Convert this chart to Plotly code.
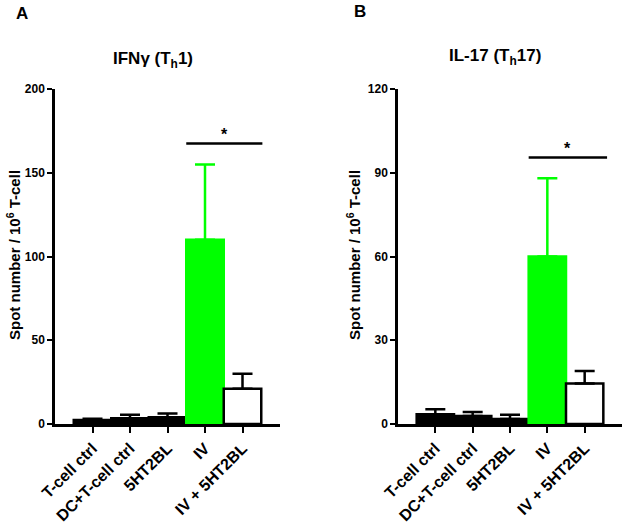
import plotly.graph_objects as go
from plotly.subplots import make_subplots

categories = ["T-cell ctrl", "DC+T-cell ctrl", "5HT2BL", "IV", "IV + 5HT2BL"]
ifng_values = [2.4, 3.5, 4.0, 110, 21]
ifng_errors = [0.8, 2.0, 2.2, 45, 9]
il17_values = [3.5, 2.9, 1.8, 60, 14.5]
il17_errors = [1.8, 1.4, 1.5, 28, 4.5]
ifng_ticks = [0, 50, 100, 150, 200]
il17_ticks = [0, 30, 60, 90, 120]
ifng_sig = (2.5, 4.53, 167.5)
il17_sig = (2.5, 4.6, 95.5)

fills = ["black", "black", "black", "#00FF00", "white"]
edges = ["black", "black", "black", "#00FF00", "black"]
errcol = ["black", "black", "black", "#00FF00", "black"]

# plot area in pixels: x 55..622, y 89..424
L, R, T, B, W, H = 55, 3, 89, 102, 625, 526
PW, PH = W - L - R, H - T - B


def px(x):
    return (x - L) / PW


def py(y):
    return (H - B - y) / PH


fig = make_subplots(rows=1, cols=2, horizontal_spacing=0.2)
fig.update_layout(xaxis=dict(domain=[0, px(280)]), xaxis2=dict(domain=[px(398), 1.0]))

FONT = "Liberation Sans, Arial, sans-serif"

for col, (vals, errs) in enumerate([(ifng_values, ifng_errors), (il17_values, il17_errors)], start=1):
    for i, c in enumerate(categories):
        fig.add_trace(go.Bar(
            x=[i], y=[vals[i]], width=[1.0],
            marker=dict(color=fills[i], line=dict(color=edges[i], width=2.5)),
            error_y=dict(type="data", array=[errs[i]], arrayminus=[0], symmetric=False,
                         color=errcol[i], thickness=2.5, width=10),
            showlegend=False, hoverinfo="skip",
        ), row=1, col=col)

for col, (ticks, sig) in enumerate([(ifng_ticks, ifng_sig), (il17_ticks, il17_sig)], start=1):
    fig.update_xaxes(row=1, col=col, range=[-1, 5], tickmode="array",
                     tickvals=list(range(len(categories))), ticktext=categories,
                     tickangle=-45, showline=True, linecolor="black", linewidth=2.5,
                     ticks="outside", ticklen=6, tickwidth=2, tickcolor="black",
                     showgrid=False, zeroline=False, automargin=False,
                     tickfont=dict(family=FONT, size=16, color="black", weight="bold"))
    fig.update_yaxes(row=1, col=col, range=[0, ticks[-1]], tickmode="array",
                     tickvals=ticks, showline=True, linecolor="black", linewidth=2.5,
                     ticks="outside", ticklen=5, tickwidth=2, tickcolor="black",
                     showgrid=False, zeroline=False, automargin=False,
                     tickfont=dict(family=FONT, size=12, color="black", weight="bold"))
    xr = "x" if col == 1 else "x2"
    yr = "y" if col == 1 else "y2"
    fig.add_shape(type="line", xref=xr, yref=yr, x0=sig[0], x1=sig[1], y0=sig[2], y1=sig[2],
                  line=dict(color="black", width=2.5))
    fig.add_annotation(xref=xr, yref=yr, x=(sig[0] + sig[1]) / 2, y=sig[2], text="<b>*</b>",
                       showarrow=False, yanchor="bottom", yshift=-2,
                       font=dict(family=FONT, size=16, color="black"))

ylab = "<b>Spot number / 10<sup>6</sup> T-cell</b>"
for xc in (13, 353):
    fig.add_annotation(xref="paper", yref="paper", x=px(xc), y=py(255), text=ylab,
                       textangle=-90, showarrow=False, xanchor="center", yanchor="middle",
                       font=dict(family=FONT, size=15, color="black"))

fig.add_annotation(xref="paper", yref="paper", x=px(153), y=py(60), xanchor="center",
                   text="<b>IFNγ (T<sub>h</sub>1)</b>", showarrow=False, yanchor="middle",
                   font=dict(family=FONT, size=17, color="black"))
fig.add_annotation(xref="paper", yref="paper", x=px(495), y=py(57), xanchor="center",
                   text="<b>IL-17 (T<sub>h</sub>17)</b>", showarrow=False, yanchor="middle",
                   font=dict(family=FONT, size=17, color="black"))
fig.add_annotation(xref="paper", yref="paper", x=px(14), xanchor="left", y=py(13),
                   text="<b>A</b>", showarrow=False, yanchor="middle",
                   font=dict(family=FONT, size=17, color="black"))
fig.add_annotation(xref="paper", yref="paper", x=px(352), xanchor="left", y=py(12),
                   text="<b>B</b>", showarrow=False, yanchor="middle",
                   font=dict(family=FONT, size=17, color="black"))

fig.update_layout(width=W, height=H, barmode="overlay",
                  margin=dict(l=L, r=R, t=T, b=B),
                  paper_bgcolor="white", plot_bgcolor="white",
                  font=dict(family=FONT, color="black"))

fig.write_html("out.html", config={"displayModeBar": False},
               post_script="document.body.style.margin='0';")
